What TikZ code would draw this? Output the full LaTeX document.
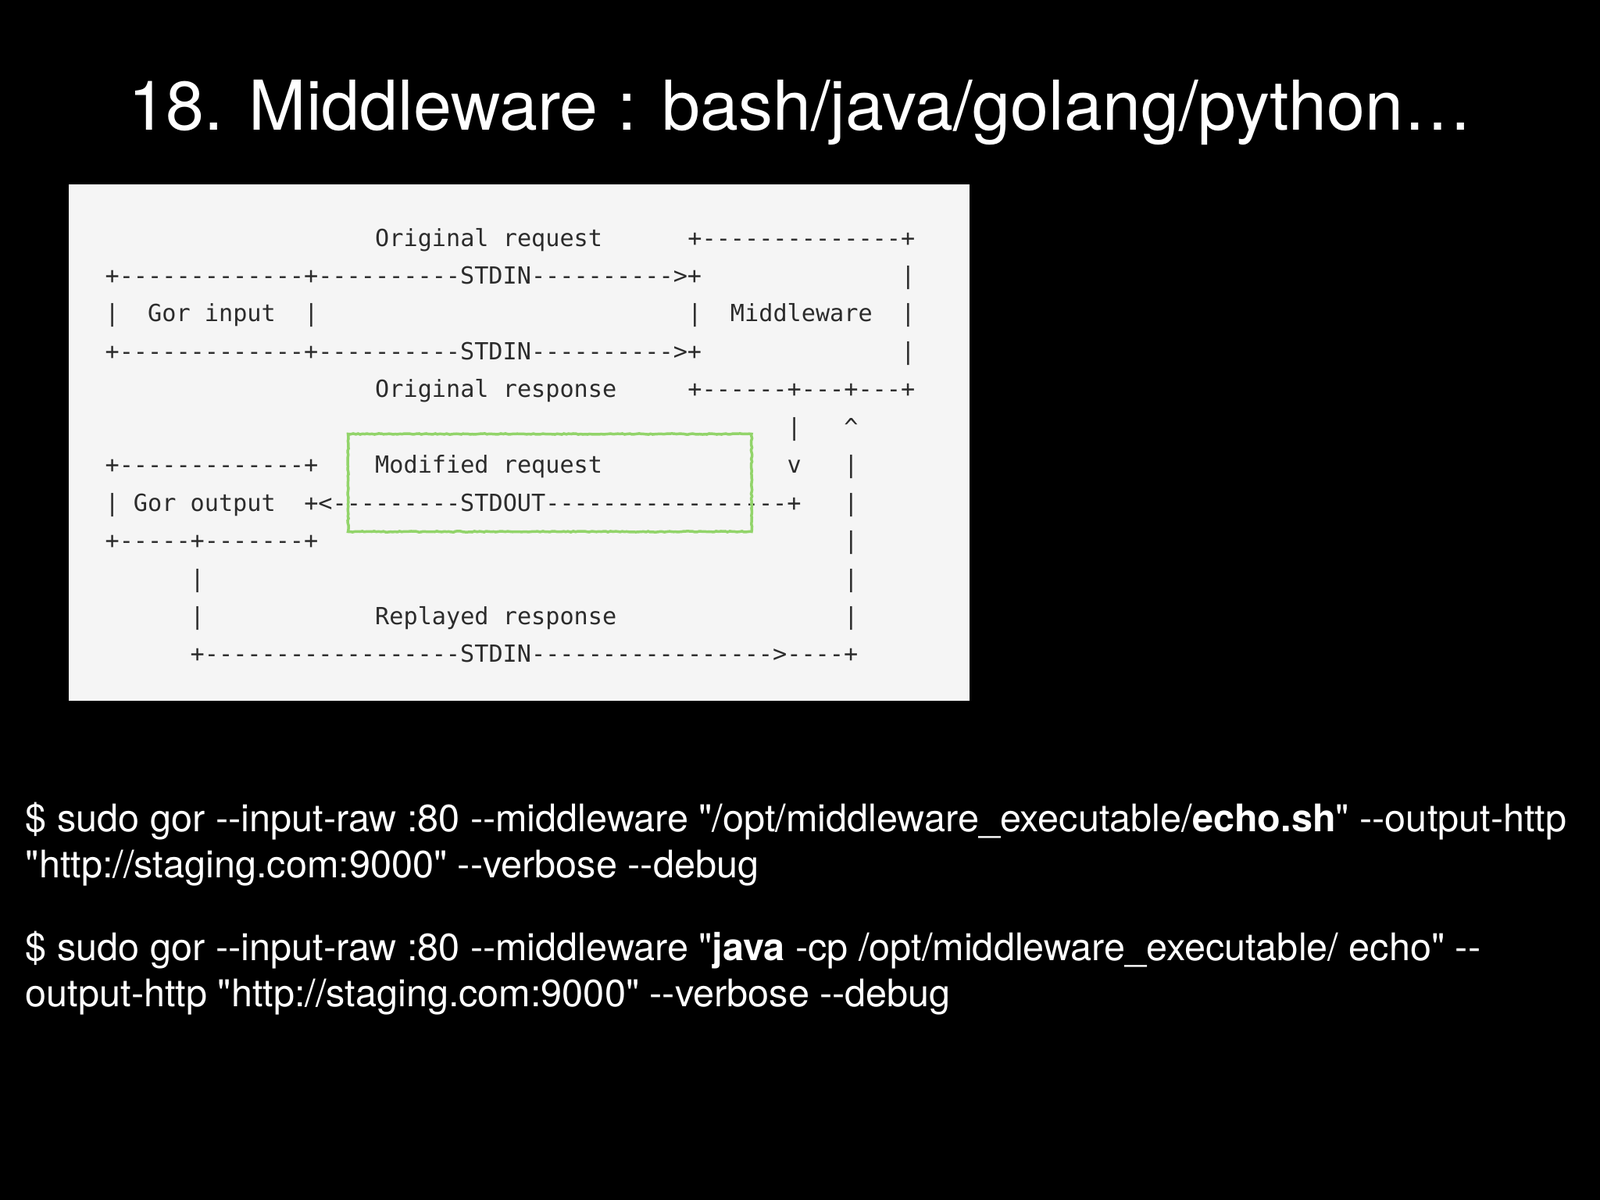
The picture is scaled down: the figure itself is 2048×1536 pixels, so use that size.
\documentclass[tikz,border=0pt]{standalone}
\usepackage{fontspec}
\setmainfont{TeX Gyre Heros}[Ligatures=TeXOff]
\setmonofont{DejaVu Sans Mono}
\usetikzlibrary{decorations.pathmorphing}
\definecolor{panelgray}{HTML}{F5F5F5}
\definecolor{artgray}{HTML}{2C2C2C}
\definecolor{markgreen}{HTML}{92D46A}

\begin{document}
\begin{tikzpicture}[x=1pt,y=-1pt,
		title/.style={anchor=base,text=white,inner sep=0pt,font=\fontsize{88}{100}\selectfont},
		cmd/.style={anchor=base west,text=white,inner sep=0pt,font=\fontsize{48.6}{58}\selectfont},
		art/.style={anchor=base west,text=artgray,inner sep=0pt,font=\ttfamily\fontsize{30.2}{36}\selectfont}]
		% Slide
		\fill[black] (0,0) rectangle (2048,1536);
		\useasboundingbox (0,0) rectangle (2048,1536);

		% Title
		\node[title] (title) at (1024,167) {18. Middleware : bash/java/golang/python…};

		% Screenshot of the flow
		\fill[panelgray] (87.5,236.4) rectangle (1240.8,897.3);

		% ASCII art: column / row / text
		\foreach \c/\r/\t in {
				19/1/Original request, 41/1/+--------------+,
				0/2/+-------------+----------STDIN---------->+, 56/2/|,
				0/3/|, 3/3/Gor input, 14/3/|, 41/3/|, 44/3/Middleware, 56/3/|,
				0/4/+-------------+----------STDIN---------->+, 56/4/|,
				19/5/Original response, 41/5/+------+---+---+,
				48/6/|, 52/6/\textasciicircum,
				0/7/+-------------+, 19/7/Modified request, 48/7/v, 52/7/|,
				0/8/| Gor output, 14/8/+<---------STDOUT-----------------+, 52/8/|,
				0/9/+-----+-------+, 52/9/|,
				6/10/|, 52/10/|,
				6/11/|, 19/11/Replayed response, 52/11/|,
				6/12/+------------------STDIN----------------->----+}
			\node[art] (art-\r-\c) at ({134.4+18.19*\c},{315+48.45*(\r-1)}) {\t};

		% Green mark round the modified request
		\draw[markgreen,line width=3.5pt,decorate,
			decoration={random steps,segment length=3pt,amplitude=0.6pt}]
			(445.5,555.5) rectangle (962,680.5);

		% Commands
		\node[cmd] (cmd-a1) at (32.7,1064.5)
			{\$ sudo gor --input-raw :80 --middleware "/opt/middleware\_executable/\textbf{echo.sh}" --output-http};
		\node[cmd] (cmd-a2) at (32.7,1123.3)
			{"http://staging.com:9000" --verbose --debug};
		\node[cmd] (cmd-b1) at (32.7,1229)
			{\$ sudo gor --input-raw :80 --middleware "\textbf{java} -cp /opt/middleware\_executable/ echo" --};
		\node[cmd] (cmd-b2) at (32.7,1288)
			{output-http "http://staging.com:9000" --verbose --debug};
	\end{tikzpicture}
\end{document}
